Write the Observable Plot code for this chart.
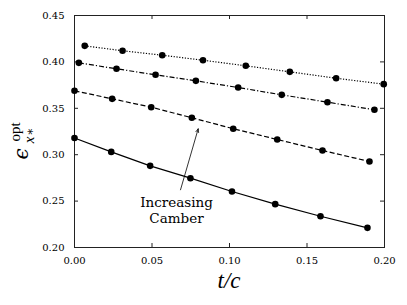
<!DOCTYPE html>
<html>
<head>
<meta charset="utf-8">
<script src="https://cdn.jsdelivr.net/npm/d3@7"></script>
<script src="https://cdn.jsdelivr.net/npm/@observablehq/plot@0.6"></script>
<style>
  html, body { margin: 0; padding: 0; background: white; }
</style>
</head>
<body>
<div id="chart"></div>
<script>
// ---- data ----
const xTicks = [0.00, 0.05, 0.10, 0.15, 0.20];
const yTicks = [0.20, 0.25, 0.30, 0.35, 0.40, 0.45];

const tcSolid   = [0.0000, 0.0237, 0.0488, 0.0748, 0.1016, 0.1295, 0.1587, 0.1890];
const epsSolid  = [0.3180, 0.3030, 0.2880, 0.2747, 0.2603, 0.2467, 0.2337, 0.2212];

const tcDashed  = [0.0000, 0.0243, 0.0495, 0.0757, 0.1024, 0.1308, 0.1600, 0.1903];
const epsDashed = [0.3689, 0.3602, 0.3512, 0.3398, 0.3280, 0.3164, 0.3045, 0.2927];

const tcDashDot  = [0.0028, 0.0271, 0.0523, 0.0783, 0.1056, 0.1337, 0.1632, 0.1935];
const epsDashDot = [0.3990, 0.3926, 0.3861, 0.3796, 0.3724, 0.3645, 0.3566, 0.3484];

const tcDotted  = [0.0066, 0.0310, 0.0566, 0.0829, 0.1105, 0.1389, 0.1688, 0.1995];
const epsDotted = [0.4173, 0.4120, 0.4072, 0.4018, 0.3958, 0.3893, 0.3824, 0.3760];

const annotationText = "Increasing\nCamber";
const annotationPos = [{x: 0.0658, y: 0.2404}];
const arrowPos = [{x1: 0.0684, y1: 0.2622, x2: 0.0798, y2: 0.3279}];

// ---- build tables ----
const series = [
  {tc: tcSolid,    eps: epsSolid,    dash: null},
  {tc: tcDashed,   eps: epsDashed,   dash: "5,2.5"},
  {tc: tcDashDot,  eps: epsDashDot,  dash: "5,2,1.2,2"},
  {tc: tcDotted,   eps: epsDotted,   dash: "1.2,1.6"}
].map(s => ({...s, rows: s.tc.map((t, i) => ({x: t, y: s.eps[i]}))}));

const W = 407, H = 305;
const mL = 74, mR = 23, mT = 15, mB = 58;
const innerH = H - mT - mB, innerW = W - mL - mR;
const tickLen = 4;

const marks = [
  Plot.frame({stroke: "#222", strokeWidth: 1}),
  // inward ticks on all four sides
  Plot.tickX(xTicks, {x: d => d, insetTop: innerH - tickLen, stroke: "#222"}),
  Plot.tickX(xTicks, {x: d => d, insetBottom: innerH - tickLen, stroke: "#222"}),
  Plot.tickY(yTicks, {y: d => d, insetRight: innerW - tickLen, stroke: "#222"}),
  Plot.tickY(yTicks, {y: d => d, insetLeft: innerW - tickLen, stroke: "#222"}),
  Plot.axisX({ticks: xTicks, tickFormat: d3.format(".2f"), tickSize: 0, tickPadding: 9, label: null}),
  Plot.axisY({ticks: yTicks, tickFormat: d3.format(".2f"), tickSize: 0, tickPadding: 10, label: null})
];

for (const s of series) {
  marks.push(Plot.line(s.rows, {x: "x", y: "y", stroke: "black", strokeWidth: 1.2,
    strokeDasharray: s.dash, strokeLinecap: "butt"}));
  marks.push(Plot.dot(s.rows, {x: "x", y: "y", r: 3.3, fill: "black", stroke: "none"}));
}

marks.push(Plot.arrow(arrowPos, {x1: "x1", y1: "y1", x2: "x2", y2: "y2",
  stroke: "black", strokeWidth: 0.8, headLength: 7, headAngle: 45}));
marks.push(Plot.text(annotationPos, {x: "x", y: "y", text: () => annotationText,
  fontSize: 13.5, lineHeight: 1.16, fill: "black", fontFamily: "DejaVu Serif"}));

const plot = Plot.plot({
  width: W, height: H,
  marginLeft: mL, marginRight: mR, marginTop: mT, marginBottom: mB,
  x: {domain: [0, 0.2]},
  y: {domain: [0.2, 0.45]},
  style: {fontFamily: "DejaVu Serif", fontSize: "10px", color: "black", background: "white"},
  marks
});

// ---- axis labels (math-style text) ----
const svg = d3.select(plot);
svg.append("text")
  .attr("x", mL + innerW / 2).attr("y", 288)
  .attr("text-anchor", "middle")
  .attr("font-family", "Liberation Serif")
  .attr("font-style", "italic")
  .attr("font-size", 23)
  .attr("fill", "black")
  .text("t/c");

const g = svg.append("g").attr("transform", `translate(28,132) rotate(-90)`)
  .attr("fill", "black");
g.append("text").attr("x", -22).attr("y", 0)
  .attr("font-family", "DejaVu Serif").attr("font-style", "italic").attr("font-size", 20).text("ϵ");
g.append("text").attr("x", -8).attr("y", 6)
  .attr("font-family", "Liberation Serif").attr("font-style", "italic").attr("font-size", 15).text("x");
g.append("text").attr("x", 0).attr("y", 6)
  .attr("font-family", "DejaVu Serif").attr("font-size", 12).text("∗");
g.append("text").attr("x", 0).attr("y", -8)
  .attr("font-family", "Liberation Serif").attr("font-size", 15).text("opt");

document.getElementById("chart").appendChild(plot);
</script>
</body>
</html>
